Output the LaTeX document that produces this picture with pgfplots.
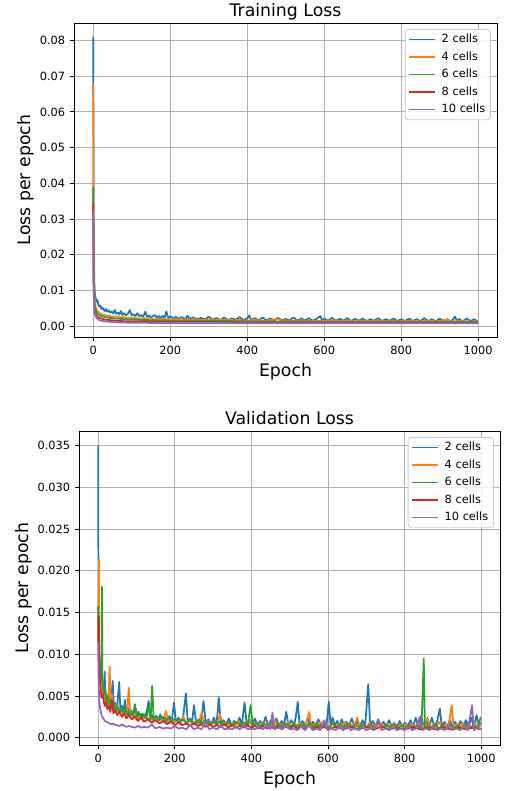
\documentclass[border=0pt]{standalone}
\usepackage{fontspec}
\setmainfont{DejaVu Sans}
\usepackage{pgfplots}
\pgfplotsset{compat=1.18}
\definecolor{c0}{HTML}{1F77B4}
\definecolor{c1}{HTML}{FF7F0E}
\definecolor{c2}{HTML}{2CA02C}
\definecolor{c3}{HTML}{D62728}
\definecolor{c4}{HTML}{9467BD}
\pgfplotsset{
  common/.style={
    scale only axis,
    xmin=-50, xmax=1049,
    xtick={0,200,400,600,800,1000},
    xticklabel style={/pgf/number format/1000 sep={}},
    tick pos=left, tick align=outside,
    major tick length=2.9bp,
    tick style={black, line width=0.6bp},
    axis line style={line width=0.6bp},
    grid=major,
    major grid style={color=black!31, line width=0.6bp},
    ticklabel style={font=\fontsize{8.2}{9.8}\selectfont},
    /pgf/number format/assume math mode=true,
    scaled y ticks=false,
    label style={font=\fontsize{12.5}{15}\selectfont},
    every axis title/.style={at={(0.5,1)}, anchor=base, yshift=4.8bp, font=\fontsize{12.5}{15}\selectfont},
    xlabel={Epoch}, ylabel={Loss per epoch},
    xlabel shift=-0.6bp, ylabel shift=-3bp,
    legend cell align=left,
    legend image code/.code={\draw[#1] (0bp,0bp) -- (18.4bp,0bp);},
    legend style={at={(1,1)}, anchor=north east, xshift=-4.5bp, yshift=-4.3bp,
      draw=black!20, line width=0.6bp, rounded corners=2bp, fill=white, fill opacity=0.8, text opacity=1,
      font=\fontsize{8.2}{9.8}\selectfont, row sep=2bp, inner xsep=2.2bp, inner ysep=2bp,
      nodes={inner sep=1.5bp, text height=6bp, text depth=1.6bp},
      /tikz/every odd column/.append style={column sep=3bp}},
    every axis plot/.append style={line width=1.25bp, line join=round},
  }
}
\begin{document}
\begin{tikzpicture}
\useasboundingbox (0,0) rectangle (367.92bp,-569.52bp);
\begin{axis}[common,
  at={(53.28bp,-16.56bp)}, anchor=north west,
  width=304.56bp, height=226.08bp,
  ymin=-0.00308, ymax=0.0849,
  ytick={0,0.01,0.02,0.03,0.04,0.05,0.06,0.07,0.08},
  yticklabel style={/pgf/number format/.cd, fixed, fixed zerofill, precision=2},
  title={Training Loss},
]
\addplot[c0] coordinates {(0,0.081)(1,0.030)(2,0.016)(3,0.0115)(4,0.0095)(5,0.0085)(7,0.0075)(9,0.0068)(11,0.0072)(13,0.006)(15,0.0055)(18,0.0058)(21,0.0048)(24,0.0052)(27,0.0045)(30,0.0042)(33,0.0048)(36,0.0040)(40,0.0044)(44,0.0037)(48,0.0041)(52,0.0035)(56,0.0045)(60,0.0034)(64,0.0038)(68,0.0032)(72,0.0042)(76,0.0031)(80,0.0036)(85,0.0030)(90,0.0034)(95,0.0045)(100,0.0029)(105,0.0033)(110,0.0028)(115,0.0036)(120,0.0027)(125,0.0031)(130,0.0026)(135,0.0040)(140,0.0026)(145,0.0030)(150,0.0024)(160,0.0031)(165,0.0023)(170,0.0028)(175,0.0023)(180,0.0029)(185,0.0022)(190,0.0041)(195,0.0022)(200,0.0027)(210,0.0021)(215,0.0026)(220,0.0020)(230,0.0025)(240,0.0019)(245,0.0029)(250,0.0020)(260,0.0024)(270,0.0019)(280,0.0023)(290,0.0018)(300,0.0026)(310,0.0018)(320,0.0022)(330,0.0017)(340,0.0024)(350,0.0017)(360,0.0021)(370,0.0018)(380,0.0025)(390,0.0017)(400,0.0021)(405,0.0030)(410,0.0017)(420,0.0022)(430,0.0016)(440,0.0024)(450,0.0016)(460,0.0021)(470,0.0016)(480,0.0023)(490,0.0016)(500,0.0020)(510,0.0016)(520,0.0024)(530,0.0015)(540,0.0021)(550,0.0016)(560,0.0022)(570,0.0015)(580,0.0020)(590,0.0028)(595,0.0015)(600,0.0021)(610,0.0015)(620,0.0023)(630,0.0015)(640,0.0020)(650,0.0015)(660,0.0022)(670,0.0014)(680,0.0020)(690,0.0015)(700,0.0021)(710,0.0014)(720,0.0019)(730,0.0015)(740,0.0022)(750,0.0014)(760,0.0019)(770,0.0015)(780,0.0021)(790,0.0014)(800,0.0019)(810,0.0014)(820,0.0021)(830,0.0014)(840,0.0019)(850,0.0014)(860,0.0022)(870,0.0014)(880,0.0019)(890,0.0013)(900,0.0021)(910,0.0014)(920,0.0019)(930,0.0013)(940,0.0026)(945,0.0014)(950,0.0020)(960,0.0013)(970,0.0021)(980,0.0014)(990,0.0019)(999,0.0013)};
\addlegendentry{2 cells}
\addplot[c1] coordinates {(0,0.068)(1,0.022)(2,0.012)(3,0.0085)(4,0.007)(6,0.0055)(8,0.0048)(10,0.0043)(13,0.0040)(16,0.0036)(20,0.0034)(25,0.0031)(30,0.0032)(35,0.0028)(40,0.0029)(50,0.0026)(60,0.0027)(70,0.0024)(80,0.0025)(90,0.0022)(100,0.0023)(120,0.0021)(140,0.0022)(160,0.0019)(180,0.0020)(200,0.0018)(220,0.0019)(240,0.0017)(260,0.0019)(280,0.0017)(300,0.0018)(320,0.0016)(340,0.0018)(360,0.0016)(380,0.0017)(400,0.0015)(420,0.0017)(440,0.0015)(460,0.0016)(480,0.0020)(490,0.0015)(500,0.0016)(520,0.0014)(540,0.0016)(560,0.0014)(580,0.0015)(600,0.0014)(620,0.0016)(640,0.0014)(660,0.0015)(680,0.0013)(700,0.0015)(720,0.0013)(740,0.0015)(760,0.0013)(780,0.0014)(800,0.0013)(820,0.0015)(840,0.0013)(860,0.0014)(880,0.0013)(900,0.0014)(920,0.0018)(930,0.0013)(950,0.0014)(970,0.0013)(999,0.0013)};
\addlegendentry{4 cells}
\addplot[c2] coordinates {(0,0.039)(1,0.015)(2,0.009)(3,0.0065)(5,0.005)(7,0.0042)(10,0.0036)(15,0.0031)(20,0.0028)(30,0.0025)(40,0.0023)(50,0.0022)(60,0.0021)(80,0.0019)(100,0.0018)(130,0.0017)(160,0.0016)(200,0.0015)(250,0.0015)(300,0.0014)(350,0.0014)(400,0.0013)(500,0.0013)(600,0.0012)(700,0.0012)(800,0.0012)(900,0.0011)(999,0.0011)};
\addlegendentry{6 cells}
\addplot[c3] coordinates {(0,0.0345)(1,0.012)(2,0.007)(3,0.005)(5,0.0038)(7,0.0032)(10,0.0027)(15,0.0023)(20,0.0021)(30,0.0018)(50,0.0016)(70,0.0014)(100,0.0013)(150,0.0012)(200,0.0011)(300,0.0011)(400,0.0010)(600,0.0010)(800,0.0010)(999,0.0009)};
\addlegendentry{8 cells}
\addplot[c4] coordinates {(0,0.0325)(1,0.011)(2,0.006)(3,0.0042)(5,0.0031)(7,0.0025)(10,0.0021)(15,0.0017)(20,0.0015)(30,0.0013)(50,0.0011)(70,0.0010)(100,0.0009)(200,0.00085)(400,0.0008)(700,0.0008)(999,0.00078)};
\addlegendentry{10 cells}
\end{axis}
\begin{axis}[common,
  at={(56.88bp,-310.32bp)}, anchor=north west,
  width=303.12bp, height=226.08bp,
  ymin=-0.00088, ymax=0.03676,
  ytick={0,0.005,0.01,0.015,0.02,0.025,0.03,0.035},
  yticklabel style={/pgf/number format/.cd, fixed, fixed zerofill, precision=3},
  title={Validation Loss},
]
\addplot[c0] coordinates {(0,0.035)(1,0.013)(2,0.0105)(3,0.0095)(5,0.0075)(7,0.0068)(9,0.006)(11,0.0052)(13,0.0057)(15,0.0049)(17,0.0079)(19,0.0045)(22,0.0052)(25,0.0041)(28,0.0048)(31,0.0038)(34,0.0044)(38,0.0068)(41,0.0036)(44,0.0042)(47,0.0033)(50,0.0039)(55,0.0067)(58,0.0032)(62,0.0038)(66,0.0030)(70,0.0045)(74,0.0029)(78,0.0035)(82,0.0027)(86,0.0033)(90,0.0026)(95,0.0036)(100,0.0025)(105,0.0031)(110,0.0024)(115,0.0029)(120,0.0023)(126,0.0030)(132,0.0044)(136,0.0022)(140,0.0027)(145,0.0021)(150,0.0026)(156,0.0020)(162,0.0028)(168,0.0020)(174,0.0025)(180,0.0019)(186,0.0026)(192,0.0019)(198,0.0042)(203,0.0019)(210,0.0024)(216,0.0018)(222,0.0025)(229,0.0053)(234,0.0018)(240,0.0023)(245,0.0018)(250,0.0039)(256,0.0017)(262,0.0022)(268,0.0017)(275,0.0044)(281,0.0017)(288,0.0022)(295,0.0016)(302,0.0024)(309,0.0016)(315,0.0048)(320,0.0016)(327,0.0021)(334,0.0016)(341,0.0023)(348,0.0015)(355,0.0020)(362,0.0016)(369,0.0024)(375,0.0015)(382,0.0042)(388,0.0015)(395,0.0021)(402,0.0015)(409,0.0023)(416,0.0015)(423,0.0020)(430,0.0015)(437,0.0025)(444,0.0014)(451,0.0021)(458,0.0015)(465,0.0023)(472,0.0014)(479,0.0020)(485,0.0015)(491,0.0031)(497,0.0014)(504,0.0021)(511,0.0015)(516,0.0025)(521,0.0043)(526,0.0014)(533,0.0020)(540,0.0015)(547,0.0023)(554,0.0014)(561,0.0019)(568,0.0015)(575,0.0022)(582,0.0014)(589,0.0019)(596,0.0014)(602,0.0043)(607,0.0014)(612,0.0024)(618,0.0014)(624,0.0020)(630,0.0014)(636,0.0022)(642,0.0014)(648,0.0019)(655,0.0014)(662,0.0023)(669,0.0014)(676,0.0019)(683,0.0013)(690,0.0021)(697,0.0014)(705,0.0064)(710,0.0014)(717,0.0020)(724,0.0013)(731,0.0022)(738,0.0014)(745,0.0019)(752,0.0013)(759,0.0021)(766,0.0014)(773,0.0018)(780,0.0013)(787,0.0020)(794,0.0013)(801,0.0018)(808,0.0013)(815,0.0021)(822,0.0013)(829,0.0024)(836,0.0013)(843,0.0026)(850,0.0013)(857,0.0020)(864,0.0013)(871,0.0024)(878,0.0013)(885,0.0020)(892,0.0035)(897,0.0013)(904,0.0019)(911,0.0013)(918,0.0021)(925,0.0013)(932,0.0019)(939,0.0013)(946,0.0020)(953,0.0013)(960,0.0021)(967,0.0013)(974,0.0024)(981,0.0013)(988,0.0027)(994,0.0013)(999,0.0018)};
\addlegendentry{2 cells}
\addplot[c1] coordinates {(0,0.012)(2,0.0213)(3,0.010)(5,0.0085)(7,0.0065)(9,0.0058)(12,0.0050)(15,0.0055)(18,0.0042)(21,0.0048)(24,0.0038)(27,0.0045)(30,0.0085)(33,0.0036)(36,0.0052)(39,0.0033)(43,0.0040)(47,0.0031)(51,0.0036)(55,0.0029)(60,0.0035)(65,0.0028)(70,0.0033)(75,0.0027)(80,0.0060)(84,0.0026)(88,0.0031)(93,0.0024)(98,0.0029)(104,0.0023)(110,0.0027)(116,0.0022)(122,0.0026)(128,0.0021)(135,0.0025)(142,0.0020)(149,0.0024)(156,0.0019)(163,0.0023)(170,0.0019)(177,0.0032)(184,0.0018)(191,0.0022)(198,0.0018)(206,0.0021)(214,0.0017)(222,0.0026)(230,0.0017)(238,0.0021)(246,0.0016)(254,0.0020)(262,0.0016)(270,0.0030)(278,0.0016)(286,0.0020)(294,0.0015)(302,0.0019)(310,0.0015)(318,0.0028)(326,0.0015)(334,0.0019)(342,0.0014)(350,0.0018)(358,0.0014)(366,0.0020)(374,0.0014)(382,0.0018)(390,0.0014)(398,0.0022)(406,0.0014)(414,0.0018)(422,0.0013)(430,0.0019)(438,0.0013)(446,0.0017)(454,0.0013)(462,0.0020)(470,0.0013)(478,0.0017)(486,0.0013)(494,0.0019)(502,0.0013)(510,0.0017)(518,0.0013)(526,0.0018)(534,0.0013)(542,0.0016)(551,0.0031)(556,0.0013)(564,0.0017)(572,0.0013)(580,0.0019)(588,0.0012)(596,0.0016)(604,0.0012)(612,0.0018)(620,0.0012)(628,0.0016)(636,0.0012)(644,0.0019)(652,0.0012)(660,0.0016)(668,0.0012)(676,0.0024)(684,0.0012)(692,0.0016)(700,0.0012)(708,0.0018)(716,0.0012)(724,0.0016)(732,0.0012)(740,0.0017)(748,0.0012)(756,0.0016)(764,0.0012)(772,0.0018)(780,0.0011)(788,0.0016)(796,0.0012)(804,0.0017)(812,0.0011)(820,0.0016)(828,0.0012)(836,0.0018)(844,0.0011)(852,0.0016)(860,0.0024)(866,0.0011)(874,0.0016)(882,0.0012)(890,0.0019)(898,0.0011)(906,0.0016)(914,0.0012)(923,0.0039)(928,0.0011)(936,0.0016)(944,0.0012)(952,0.0018)(960,0.0011)(968,0.0016)(976,0.0012)(984,0.0017)(992,0.0011)(999,0.0016)};
\addlegendentry{4 cells}
\addplot[c2] coordinates {(0,0.0157)(1,0.011)(3,0.0095)(5,0.008)(7,0.0068)(9,0.0083)(10,0.0181)(11,0.0075)(13,0.0060)(16,0.0052)(19,0.0058)(22,0.0045)(25,0.0050)(28,0.0040)(32,0.0046)(36,0.0036)(40,0.0042)(45,0.0033)(50,0.0038)(55,0.0031)(60,0.0035)(66,0.0029)(72,0.0033)(78,0.0027)(84,0.0031)(90,0.0026)(96,0.0040)(102,0.0025)(108,0.0029)(114,0.0024)(120,0.0028)(126,0.0023)(132,0.0038)(137,0.0023)(141,0.0062)(145,0.0022)(152,0.0026)(160,0.0021)(168,0.0025)(176,0.0020)(184,0.0024)(192,0.0019)(200,0.0023)(210,0.0019)(220,0.0022)(230,0.0018)(240,0.0021)(250,0.0017)(260,0.0020)(270,0.0017)(280,0.0021)(290,0.0016)(300,0.0019)(310,0.0016)(320,0.0020)(330,0.0015)(340,0.0018)(350,0.0015)(360,0.0019)(370,0.0015)(380,0.0018)(390,0.0014)(398,0.0039)(404,0.0014)(412,0.0018)(422,0.0014)(432,0.0017)(442,0.0014)(452,0.0019)(462,0.0013)(472,0.0017)(482,0.0013)(492,0.0016)(502,0.0013)(512,0.0017)(522,0.0013)(532,0.0016)(542,0.0013)(552,0.0018)(562,0.0013)(572,0.0016)(582,0.0012)(592,0.0016)(602,0.0012)(612,0.0017)(622,0.0012)(632,0.0016)(642,0.0012)(652,0.0017)(662,0.0012)(672,0.0015)(682,0.0012)(692,0.0016)(702,0.0012)(712,0.0016)(722,0.0012)(732,0.0018)(742,0.0012)(752,0.0015)(762,0.0012)(772,0.0016)(782,0.0011)(792,0.0015)(802,0.0012)(812,0.0016)(822,0.0011)(832,0.0015)(840,0.0012)(845,0.0026)(850,0.0095)(853,0.0012)(860,0.0015)(870,0.0011)(880,0.0016)(890,0.0011)(900,0.0015)(910,0.0011)(920,0.0016)(930,0.0011)(940,0.0015)(950,0.0011)(960,0.0016)(970,0.0011)(980,0.0015)(990,0.0011)(999,0.0025)};
\addlegendentry{6 cells}
\addplot[c3] coordinates {(0,0.0115)(2,0.0145)(3,0.0085)(5,0.0065)(7,0.0055)(9,0.0048)(12,0.0052)(15,0.0042)(18,0.0038)(21,0.0043)(24,0.0034)(28,0.0038)(32,0.0031)(36,0.0045)(40,0.0029)(45,0.0033)(50,0.0027)(56,0.0031)(62,0.0025)(68,0.0029)(74,0.0023)(80,0.0027)(88,0.0022)(96,0.0025)(104,0.0020)(112,0.0024)(120,0.0019)(130,0.0022)(140,0.0018)(150,0.0021)(160,0.0017)(170,0.0020)(180,0.0016)(190,0.0019)(200,0.0015)(210,0.0018)(220,0.0015)(230,0.0017)(240,0.0014)(250,0.0017)(260,0.0014)(270,0.0016)(280,0.0013)(290,0.0016)(300,0.0013)(310,0.0015)(320,0.0013)(330,0.0016)(340,0.0012)(350,0.0015)(360,0.0012)(370,0.0014)(380,0.0012)(390,0.0015)(400,0.0012)(410,0.0014)(420,0.0011)(430,0.0014)(440,0.0011)(450,0.0013)(460,0.0011)(470,0.0014)(480,0.0011)(490,0.0013)(500,0.0011)(510,0.0014)(520,0.0011)(530,0.0013)(540,0.0011)(550,0.0014)(560,0.0011)(570,0.0013)(580,0.0011)(590,0.0013)(600,0.0010)(620,0.0013)(640,0.0010)(660,0.0013)(680,0.0010)(700,0.0013)(720,0.0010)(740,0.0013)(760,0.0010)(780,0.0012)(800,0.0010)(820,0.0013)(840,0.0010)(860,0.0012)(880,0.0010)(900,0.0012)(920,0.0010)(940,0.0012)(960,0.0010)(980,0.0012)(999,0.0010)};
\addlegendentry{8 cells}
\addplot[c4] coordinates {(0,0.0113)(1,0.0075)(2,0.0055)(3,0.0045)(5,0.0036)(7,0.0031)(9,0.0027)(12,0.0024)(15,0.0022)(18,0.0020)(22,0.0019)(26,0.0018)(30,0.0017)(35,0.0016)(40,0.0017)(45,0.0015)(50,0.0015)(56,0.0014)(62,0.0016)(68,0.0014)(74,0.0013)(80,0.0014)(88,0.0013)(96,0.0012)(104,0.0014)(112,0.0012)(120,0.0013)(130,0.0012)(140,0.0016)(150,0.0011)(160,0.0013)(170,0.0011)(180,0.0012)(190,0.0011)(200,0.0014)(210,0.0011)(220,0.0012)(230,0.0010)(240,0.0015)(250,0.0010)(260,0.0012)(270,0.0010)(280,0.0019)(290,0.0010)(300,0.0012)(310,0.0010)(320,0.0014)(330,0.0010)(340,0.0011)(350,0.0010)(360,0.0013)(370,0.0010)(380,0.0015)(390,0.0010)(400,0.0011)(410,0.0010)(420,0.0013)(430,0.0010)(440,0.0016)(450,0.0010)(455,0.0030)(460,0.0010)(470,0.0012)(480,0.0010)(490,0.0014)(500,0.0010)(510,0.0011)(520,0.0009)(530,0.0013)(540,0.0009)(550,0.0015)(560,0.0009)(570,0.0011)(580,0.0009)(590,0.0021)(600,0.0009)(610,0.0011)(620,0.0009)(630,0.0013)(640,0.0009)(650,0.0015)(660,0.0009)(670,0.0011)(680,0.0009)(690,0.0013)(700,0.0009)(710,0.0011)(720,0.0009)(730,0.0020)(740,0.0009)(750,0.0011)(760,0.0009)(770,0.0013)(780,0.0009)(790,0.0011)(800,0.0009)(810,0.0014)(820,0.0009)(830,0.0011)(840,0.0025)(845,0.0009)(855,0.0011)(865,0.0009)(875,0.0013)(885,0.0009)(895,0.0011)(905,0.0009)(915,0.0015)(925,0.0009)(935,0.0011)(945,0.0009)(955,0.0014)(965,0.0009)(976,0.0039)(981,0.0009)(990,0.0013)(999,0.0010)};
\addlegendentry{10 cells}
\end{axis}
\end{tikzpicture}
\end{document}
